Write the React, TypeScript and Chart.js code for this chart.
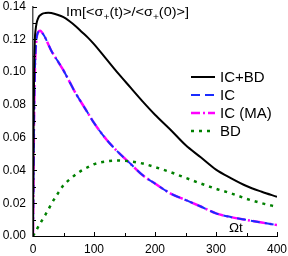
import React, { useEffect, useRef } from "react";
import { Chart, registerables } from "chart.js";

Chart.register(...registerables);

const tValues = [0, 1, 2, 3, 4, 6, 8, 10, 12, 15, 20, 25, 30, 40, 50, 60, 70, 80, 90, 100, 120, 140, 160, 180, 200, 225, 250, 275, 300, 325, 350, 375, 400];

const icBd = [0, 0.07, 0.105, 0.12, 0.125, 0.13, 0.1325, 0.134, 0.1347, 0.1355, 0.136, 0.1362, 0.136, 0.135, 0.1335, 0.131, 0.128, 0.1245, 0.121, 0.117, 0.108, 0.099, 0.0905, 0.082, 0.074, 0.065, 0.0555, 0.048, 0.0405, 0.0352, 0.0305, 0.027, 0.0239];

const ic = [0, 0.045, 0.08, 0.1, 0.111, 0.121, 0.124, 0.125, 0.1252, 0.124, 0.121, 0.117, 0.113, 0.107, 0.101, 0.094, 0.087, 0.081, 0.075, 0.069, 0.059, 0.051, 0.044, 0.037, 0.032, 0.026, 0.022, 0.018, 0.0138, 0.0115, 0.0098, 0.0082, 0.0067];

const icMa = [0, 0.045, 0.08, 0.1, 0.111, 0.121, 0.124, 0.125, 0.1252, 0.124, 0.121, 0.117, 0.113, 0.107, 0.101, 0.094, 0.087, 0.081, 0.075, 0.069, 0.059, 0.051, 0.044, 0.037, 0.032, 0.026, 0.022, 0.018, 0.0138, 0.0115, 0.0098, 0.0082, 0.0067];

const bd = [0, 0.0007, 0.0013, 0.002, 0.0026, 0.0039, 0.0052, 0.0065, 0.0078, 0.0097, 0.0128, 0.016, 0.0195, 0.0255, 0.031, 0.0345, 0.0375, 0.04, 0.042, 0.0438, 0.0455, 0.046, 0.0455, 0.0442, 0.042, 0.039, 0.0355, 0.032, 0.0288, 0.026, 0.0227, 0.02, 0.0178];

const seriesLabels = ["IC+BD", "IC", "IC (MA)", "BD"];
const seriesColors = ["#000000", "#1a2cff", "#ff00ff", "#008000"];
const seriesDashes = [[], [9, 5], [14, 3, 2, 3], [3, 5]];
const legendDashes = [[], [9, 5], [9, 3, 2, 3], [3, 5]];
const seriesWidths = [2, 2, 2.5, 2.5];

const xTickStep = 100;
const yTickStep = 0.02;
const FONT = "'Liberation Sans', Arial, sans-serif";

const toPoints = (arr: number[]) => tValues.map((t, i) => ({ x: t, y: arr[i] }));

const decorPlugin = {
  id: "decor",
  afterDraw(chart: any) {
    const ctx = chart.ctx;
    const xs = chart.scales.x;
    const ys = chart.scales.y;
    const area = chart.chartArea;
    ctx.save();
    ctx.strokeStyle = "#000";
    ctx.lineWidth = 1;
    for (let v = 0; v <= 400 + 1e-9; v += 50) {
      const px = Math.round(xs.getPixelForValue(v)) + 0.5;
      const len = v % 100 === 0 ? 4 : 3;
      ctx.beginPath();
      ctx.moveTo(px, area.bottom);
      ctx.lineTo(px, area.bottom - len);
      ctx.stroke();
    }
    for (let k = 0; k <= 14; k++) {
      const v = k * 0.01;
      const py = Math.round(ys.getPixelForValue(v)) + 0.5;
      const len = k % 2 === 0 ? 4 : 3;
      ctx.beginPath();
      ctx.moveTo(area.left, py);
      ctx.lineTo(area.left + len, py);
      ctx.stroke();
    }
    // title (slightly condensed to match width)
    ctx.fillStyle = "#000";
    ctx.textBaseline = "alphabetic";
    ctx.textAlign = "left";
    const parts: [string, boolean][] = [
      ["Im[<σ", false],
      ["+", true],
      ["(t)>/<σ", false],
      ["+", true],
      ["(0)>]", false],
    ];
    const mainFont = `13.5px ${FONT}`;
    const subFont = `9.5px ${FONT}`;
    let total = 0;
    for (const [txt, sub] of parts) {
      ctx.font = sub ? subFont : mainFont;
      total += ctx.measureText(txt).width;
    }
    const targetW = 123;
    const sx = targetW / total;
    ctx.save();
    ctx.translate(66, 0);
    ctx.scale(sx, 1);
    let x = 0;
    const baseY = 15.5;
    for (const [txt, sub] of parts) {
      ctx.font = sub ? subFont : mainFont;
      ctx.fillText(txt, x, sub ? baseY + 4.5 : baseY);
      x += ctx.measureText(txt).width;
    }
    ctx.restore();
    // Omega t
    ctx.font = `13.5px ${FONT}`;
    ctx.fillText("Ωt", 229, 232);
    // legend
    const rows = [77, 95, 113, 131];
    ctx.font = `15px ${FONT}`;
    ctx.textBaseline = "middle";
    for (let i = 0; i < 4; i++) {
      const y = rows[i];
      ctx.strokeStyle = seriesColors[i];
      ctx.lineWidth = seriesWidths[i];
      ctx.setLineDash(legendDashes[i]);
      ctx.beginPath();
      ctx.moveTo(191, y);
      ctx.lineTo(215, y);
      ctx.stroke();
      ctx.setLineDash([]);
      ctx.fillStyle = "#000";
      ctx.fillText(seriesLabels[i], 220, y + 1);
    }
    ctx.restore();
  },
};

export default function App() {
  const ref = useRef<HTMLCanvasElement>(null);
  useEffect(() => {
    document.body.style.margin = "0";
    const arrays = [icBd, ic, icMa, bd];
    const order = [0, 3, 1, 2];
    const datasets = order.map((i) => ({
      label: seriesLabels[i],
      data: toPoints(arrays[i]),
      borderColor: seriesColors[i],
      borderWidth: seriesWidths[i],
      borderDash: seriesDashes[i],
      pointRadius: 0,
      fill: false,
      cubicInterpolationMode: "monotone" as const,
    }));
    const chart = new Chart(ref.current!, {
      type: "line",
      data: { datasets },
      plugins: [decorPlugin],
      options: {
        animation: false,
        responsive: false,
        layout: { padding: { top: 6.5, right: 11, left: 0, bottom: 0 } },
        plugins: { legend: { display: false }, tooltip: { enabled: false }, title: { display: false } },
        scales: {
          x: {
            type: "linear",
            min: 0,
            max: 400,
            grid: { display: false, drawTicks: false },
            border: { display: true, color: "#000", width: 1 },
            ticks: { stepSize: xTickStep, padding: 6, color: "#000", font: { family: FONT, size: 12 }, maxRotation: 0 },
            afterFit: (s: any) => { s.height = 20; s.paddingLeft = 0; s.paddingRight = 0; },
          },
          y: {
            type: "linear",
            min: 0,
            max: 0.14,
            grid: { display: false, drawTicks: false },
            border: { display: true, color: "#555", width: 1.5 },
            ticks: {
              stepSize: yTickStep,
              padding: 7,
              color: "#000",
              font: { family: FONT, size: 12 },
              callback: (v: any) => Number(v).toFixed(2),
            },
            afterFit: (s: any) => { s.width = 33; s.paddingTop = 0; s.paddingBottom = 0; },
          },
        },
      },
    });
    return () => chart.destroy();
  }, []);
  return (
    <div style={{ position: "absolute", left: 0, top: 0, width: 288, height: 256 }}>
      <canvas ref={ref} width={288} height={256} />
    </div>
  );
}
